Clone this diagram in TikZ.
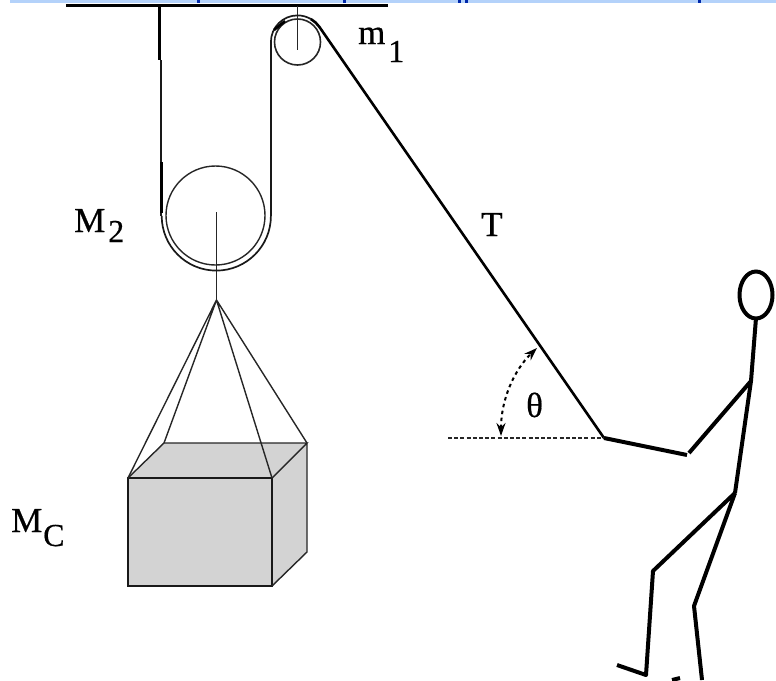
\documentclass[tikz,border=0pt]{standalone}
\usepackage{fontspec}
\setmainfont{Liberation Serif}
\newfontfamily\heavyserif[FakeBold=0.5]{Liberation Serif}
\usetikzlibrary{arrows.meta,shapes.geometric}
\definecolor{boxgray}{RGB}{211,211,211}
\definecolor{stripblue}{RGB}{180,210,250}
\definecolor{linkblue}{RGB}{0,40,170}
\tikzset{
  thinline/.style={draw=black!85,line width=1.4pt},
  rope/.style={draw=black!90,line width=1.7pt},
  taut rope/.style={draw=black,line width=2.6pt},
  thick rope/.style={draw=black,line width=2.6pt},
  limb/.style={draw=black,line width=4pt,line join=round},
  label text/.style={font=\heavyserif\fontsize{35}{35}\selectfont,inner sep=0pt,anchor=base west},
  sub text/.style={font=\heavyserif\fontsize{32}{32}\selectfont,inner sep=0pt,anchor=base west},
}
\begin{document}
\begin{tikzpicture}[x=1pt,y=-1pt]
\useasboundingbox (0,0) rectangle (776,680);
\fill[stripblue] (10,0) rectangle (776,2.5);
\foreach \x in {197,343,458,465,698}{\fill[linkblue] (\x,0) rectangle (\x+2.5,2.5);}
% ceiling
\draw[line width=3.4pt] (66,5.5) -- (388,5.5);
\draw[thick rope] (159.5,6) -- (159.5,60);
\draw[draw=black!90,line width=2pt] (160.7,60) -- (160.7,216);
\draw[thick rope] (161.7,162) -- (161.7,213);
% pulleys
\node[circle,draw=black!85,line width=1.6pt,minimum size=46pt,inner sep=0pt] (small) at (297.5,42) {};
\node[circle,draw=black!85,line width=1.4pt,minimum size=99pt,inner sep=0pt] (big) at (215.5,215.5) {};
\coordinate (hub) at (216.5,300);
\draw[thinline] (297.5,6) -- (297.5,50);
\draw[thinline] (216.5,212) -- (hub);
% rope
\draw[rope] (161.7,216) arc[start angle=180,end angle=0,radius=54.6] -- (270.9,42);
\draw[rope] (270.9,42) arc[start angle=180,end angle=300,radius=26.6];
\draw[taut rope] (310.8,19) arc[start angle=300,end angle=325,radius=26.6] -- (604,438);
\draw[thick rope] (274,30) -- (285,21);
% box
\coordinate (f1) at (128,478);\coordinate (f2) at (272,478);\coordinate (f3) at (272,586);\coordinate (f4) at (128,586);
\coordinate (b1) at (164,443);\coordinate (b2) at (307,443);\coordinate (b3) at (307,552);
\path[fill=boxgray] (f1)--(b1)--(b2)--(b3)--(f3)--(f4)--cycle;
\draw[rope,line join=miter] (f1) rectangle (f3);
\draw[thinline] (f1)--(b1)--(b2)--(f2) (b2)--(b3)--(f3);
\draw[thinline] (hub)--(f1) (hub)--(b1) (hub)--(f2) (hub)--(b2);
% labels
\node[label text] (m2) at (74,232) {M};
\node[sub text] (m2s) at (108,242) {2};
\node[label text] (mc) at (11,532) {M};
\node[sub text] (mcs) at (43,546) {C};
\node[label text] (m1) at (358,44) {m};
\node[sub text] (m1s) at (388,62) {1};
\node[label text] (T) at (481,236) {T};
\node[label text] (th) at (526,417) {θ};
% angle
\coordinate (hand) at (604,438);
\draw[thinline,dash pattern=on 4pt off 2.2pt] (448,438) -- (hand);
\draw[line width=2pt,dash pattern=on 3.5pt off 3.5pt,{Stealth[length=13pt,width=9pt]}-{Stealth[length=13pt,width=9pt]}] (501,436) .. controls (501,400) and (514,370) .. (537,348);
% figure
\draw[limb] (hand) -- (687,455);
\draw[limb] (689,453) -- (751,381);
\draw[limb] (756,318) -- (751,381) -- (735,493);
\draw[limb] (735,493) -- (653,571) -- (646,675) -- (617,665);
\draw[limb] (735,493) -- (694,606) -- (702,680);
\draw[limb] (672,680) -- (680,678);
\node[ellipse,draw=black,line width=4pt,minimum width=33pt,minimum height=47pt,inner sep=0pt] (head) at (756,295) {};
\end{tikzpicture}
\end{document}
